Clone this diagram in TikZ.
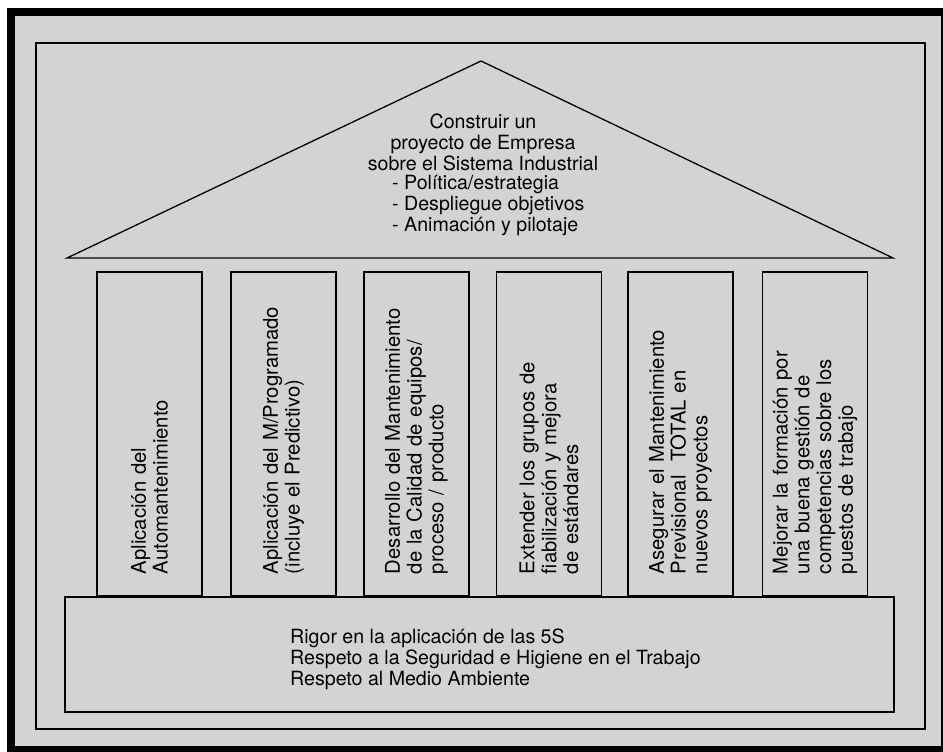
\documentclass[tikz,border=0pt]{standalone}
\usepackage{fontspec}
\setmainfont{TeX Gyre Heros}
\usetikzlibrary{positioning}
\definecolor{fondo}{RGB}{211,211,211}
\newcommand{\letra}{\fontsize{19.6}{21.3}\selectfont}
\newcommand{\letrapilar}{\fontsize{20.3}{21.8}\selectfont}
\tikzset{
  trazo/.style={draw=black, line width=1.3pt},
  pilar/.style={trazo, rotate=90, minimum height=105pt, inner xsep=22pt, inner ysep=0pt,
                text width=280pt, align=left, font=\letrapilar},
  texto/.style={font=\letra, inner sep=0pt},
}
\begin{document}
\begin{tikzpicture}[x=1pt, y=-1pt]
  \useasboundingbox (0,0) rectangle (943,752);
  \fill[white] (0,0) rectangle (943,752);
  \fill[black] (7,8) rectangle (943,752);
  \fill[fondo] (15,16) rectangle (941,746);
  % marco interior
  \draw[trazo, line width=1.1pt] (36,43) rectangle (925,729);
  % techo
  \coordinate (aleroI) at (67,258);
  \coordinate (cumbre) at (481,61);
  \coordinate (aleroD) at (893,258);
  \draw[trazo, line join=miter] (aleroI) -- (cumbre) -- (aleroD) -- cycle;
  \node[texto, align=center] (techo) at (483,142.5)
    {Construir un\\proyecto de Empresa\\sobre el Sistema Industrial};
  \node[texto, align=left, anchor=west] (lista) at (392,205.5)
    {- Política/estrategia\\- Despliegue objetivos\\- Animación y pilotaje};
  % pilares
  \node[pilar] (p1) at (149.5,434) {Aplicación del\\Automantenimiento};
  \node[pilar] (p2) at (283.5,434) {Aplicación del M/Programado\\(incluye el Predictivo)};
  \node[pilar] (p3) at (416.5,434) {Desarrollo del Mantenimiento\\de la Calidad de equipos/\\proceso / producto};
  \node[pilar] (p4) at (549,434) {Extender los grupos de\\fiabilización y mejora\\de estándares};
  \node[pilar] (p5) at (680.5,434) {Asegurar el Mantenimiento\\Previsional~ TOTAL en\\nuevos proyectos};
  \node[pilar] (p6) at (815,434) {Mejorar la formación por\\una buena gestión de\\competencias sobre los\\puestos de trabajo};
  % base
  \draw[trazo] (65,597) rectangle (894,712);
  \node[texto, align=left, anchor=west] (base) at (290,659.5)
    {Rigor en la aplicación de las 5S\\Respeto a la Seguridad e Higiene en el Trabajo\\Respeto al Medio Ambiente};
\end{tikzpicture}
\end{document}
